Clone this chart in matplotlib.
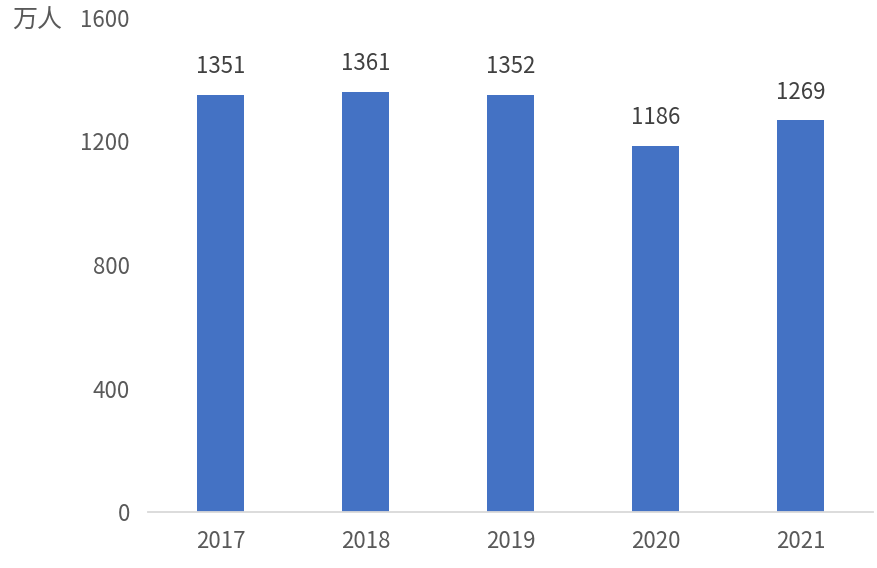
import numpy as np
import matplotlib
matplotlib.use("Agg")
import matplotlib.pyplot as plt

plt.rcParams['font.family'] = ['Noto Sans CJK SC', 'DejaVu Sans']

years = ["2017", "2018", "2019", "2020", "2021"]
values = [1351, 1361, 1352, 1186, 1269]
yticks = [0, 400, 800, 1200, 1600]
unit = "万人"

fig = plt.figure(figsize=(8.78, 5.68), dpi=100)
ax = fig.add_axes([148/878, 56/568, 725/878, 494/568])

x = np.arange(len(years))
ax.bar(x, values, width=0.32, color="#4472C4", zorder=2)

for xi, v in zip(x, values):
    ax.annotate(str(v), (xi, v), xytext=(0, 12), textcoords="offset points",
                ha="center", va="bottom", fontsize=16, color="#404040")

ax.set_xlim(-0.5, len(years) - 0.5)
ax.set_ylim(0, 1600)
ax.set_xticks(x)
ax.set_xticklabels(years)
ax.set_yticks(yticks)
ax.tick_params(axis="both", length=0, labelsize=16, colors="#595959")
ax.tick_params(axis="y", pad=13)
ax.tick_params(axis="x", pad=13)

for s in ["top", "right", "left"]:
    ax.spines[s].set_visible(False)
ax.spines["bottom"].set_color("#D9D9D9")
ax.spines["bottom"].set_linewidth(1.3)

fig.text(12/878, 1 - 21/568, unit, ha="left", va="center", fontsize=18, color="#595959")

fig.savefig("out.png", dpi=100)
